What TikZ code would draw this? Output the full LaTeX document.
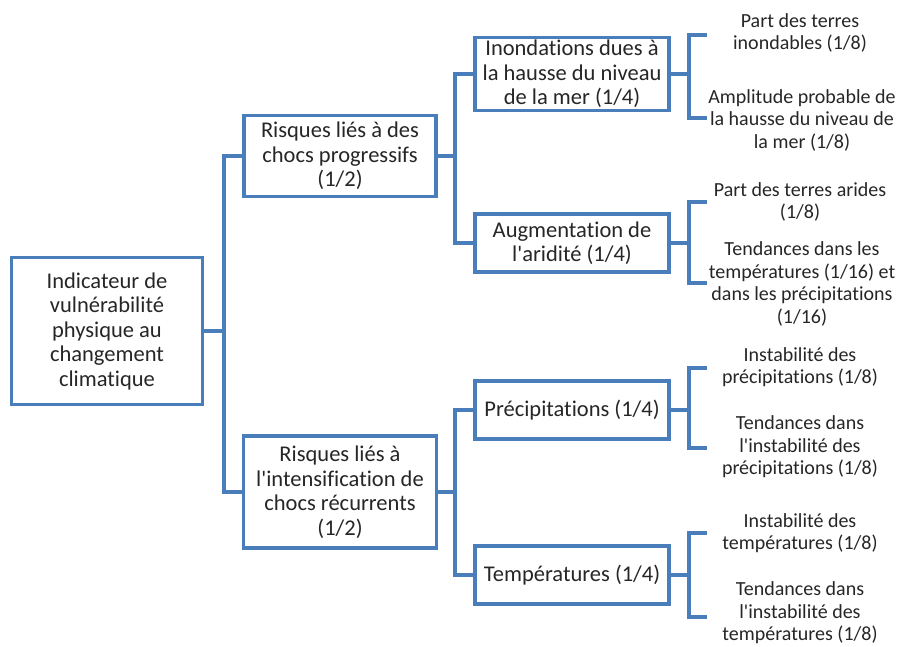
\documentclass[tikz,border=0pt]{standalone}
\usepackage{fontspec}
\setmainfont{Carlito}[Ligatures=NoCommon]
\definecolor{ligne}{HTML}{4A7EBB}
\definecolor{texte}{HTML}{262626}
\newcommand{\apo}{\textquotesingle}
\tikzset{
  boite/.style={draw=ligne,line width=3.6pt,fill=white,inner sep=0pt,align=center,
    text=texte,font=\fontsize{22.5}{24.5}\selectfont},
  feuille/.style={inner sep=0pt,align=center,text=texte,font=\fontsize{20}{22.5}\selectfont},
  lien/.style={draw=ligne,line width=3.6pt,line join=miter}
}
\begin{document}
\begin{tikzpicture}[x=1pt,y=-1pt]
\useasboundingbox (0,0) rectangle (901,646);
% racine
\node[boite,minimum width=191pt,minimum height=147pt] (racine) at (107,331)
  {Indicateur de\\vulnérabilité\\physique au\\changement\\climatique};
% premier niveau
\node[boite,minimum width=192pt,minimum height=81pt] (progressifs) at (340,156)
  {Risques liés à des\\chocs progressifs\\(1/2)};
\node[boite,minimum width=193pt,minimum height=112pt] (recurrents) at (340,492)
  {Risques liés à\\l\apo intensification de\\chocs récurrents\\(1/2)};
% deuxieme niveau
\node[boite,minimum width=194pt,minimum height=73pt] (inondations) at (572,74)
  {Inondations dues à\\la hausse du niveau\\de la mer (1/4)};
\node[boite,minimum width=194pt,minimum height=58pt] (aridite) at (572,243)
  {Augmentation de\\l\apo aridité (1/4)};
\node[boite,minimum width=194pt,minimum height=58pt] (precip) at (572,410)
  {Précipitations (1/4)};
\node[boite,minimum width=194pt,minimum height=58pt] (temp) at (572,575)
  {Températures (1/4)};
% feuilles
\node[feuille] (f1) at (800,33) {Part des terres\\inondables (1/8)};
\node[feuille] (f2) at (802,120) {Amplitude probable de\\la hausse du niveau de\\la mer (1/8)};
\node[feuille] (f3) at (800,202) {Part des terres arides\\(1/8)};
\node[feuille] (f4) at (802,284) {Tendances dans les\\températures (1/16) et\\dans les précipitations\\(1/16)};
\node[feuille] (f5) at (800,367) {Instabilité des\\précipitations (1/8)};
\node[feuille] (f6) at (800,447) {Tendances dans\\l\apo instabilité des\\précipitations (1/8)};
\node[feuille] (f7) at (800,533) {Instabilité des\\températures (1/8)};
\node[feuille] (f8) at (800,613) {Tendances dans\\l\apo instabilité des\\températures (1/8)};
% barres verticales
\coordinate (bus1) at (224,0);
\coordinate (bus2) at (455,0);
\coordinate (bus3) at (689,0);
% extremites des accolades
\coordinate (s1) at (707,35);
\coordinate (s2) at (707,118);
\coordinate (s3) at (707,202);
\coordinate (s4) at (707,283);
\coordinate (s5) at (707,368);
\coordinate (s6) at (707,448);
\coordinate (s7) at (707,533);
\coordinate (s8) at (707,617);
% liens
\draw[lien] (racine.east) -- (racine.east -| bus1);
\draw[lien] (progressifs.west) -- (progressifs.west -| bus1) -- (recurrents.west -| bus1) -- (recurrents.west);
\draw[lien] (progressifs.east) -- (progressifs.east -| bus2);
\draw[lien] (inondations.west) -- (inondations.west -| bus2) -- (aridite.west -| bus2) -- (aridite.west);
\draw[lien] (recurrents.east) -- (recurrents.east -| bus2);
\draw[lien] (precip.west) -- (precip.west -| bus2) -- (temp.west -| bus2) -- (temp.west);
% accolades vers les feuilles
\draw[lien] (inondations.east) -- (inondations.east -| bus3);
\draw[lien] (s1) -- (s1 -| bus3) -- (s2 -| bus3) -- (s2);
\draw[lien] (aridite.east) -- (aridite.east -| bus3);
\draw[lien] (s3) -- (s3 -| bus3) -- (s4 -| bus3) -- (s4);
\draw[lien] (precip.east) -- (precip.east -| bus3);
\draw[lien] (s5) -- (s5 -| bus3) -- (s6 -| bus3) -- (s6);
\draw[lien] (temp.east) -- (temp.east -| bus3);
\draw[lien] (s7) -- (s7 -| bus3) -- (s8 -| bus3) -- (s8);
\end{tikzpicture}
\end{document}
